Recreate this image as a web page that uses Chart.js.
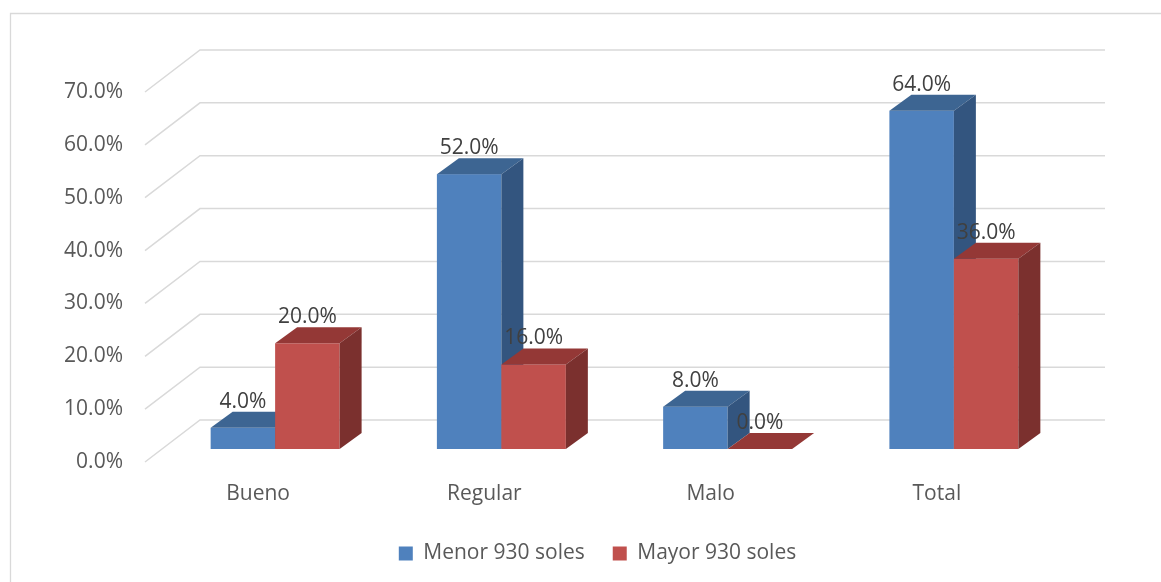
<!DOCTYPE html>
<html>
<head>
<meta charset="utf-8">
<script src="https://cdn.jsdelivr.net/npm/chart.js@4.4.0/dist/chart.umd.min.js"></script>
<style>
  html, body { margin: 0; padding: 0; background: #ffffff; }
  #wrap { position: relative; width: 1161px; height: 582px; }
</style>
</head>
<body>
<div id="wrap"><canvas id="c" width="1161" height="582"></canvas></div>
<script>
// ---- data ----
const categories = ['Bueno', 'Regular', 'Malo', 'Total'];
const seriesNames = ['Menor 930 soles', 'Mayor 930 soles'];
const menorValues = [0.04, 0.52, 0.08, 0.64];
const mayorValues = [0.20, 0.16, 0.00, 0.36];
const yTicks = [0, 0.1, 0.2, 0.3, 0.4, 0.5, 0.6, 0.7];

// ---- styles ----
const faceColors = [
  { front: '#4F81BD', top: '#3D6592', side: '#33557F' },
  { front: '#C0504D', top: '#943836', side: '#7B302E' }
];
const gridColor = '#D9D9D9';
const wallDepth = { dx: 55, dy: -42 };       // full depth of the floor/walls
const barFront = { dx: 17, dy: -13 };        // position of bar front face within depth
const barDepth = { dx: 22, dy: -16 };        // depth of the bars
const fontFamily = '"Open Sans", "Noto Sans", sans-serif';
const fontSize = 21;
const bottomPad = 8;

const fmt = v => (v * 100).toFixed(1) + '%';

const threeD = {
  id: 'threeD',
  beforeDraw(chart) {
    const ctx = chart.ctx;
    ctx.save();
    ctx.strokeStyle = gridColor;
    ctx.lineWidth = 1.3;
    ctx.beginPath();
    ctx.moveTo(10.5, 582);
    ctx.lineTo(10.5, 13.5);
    ctx.lineTo(1161, 13.5);
    ctx.stroke();
    ctx.restore();
  },
  beforeDatasetsDraw(chart) {
    const ctx = chart.ctx;
    const ys = chart.scales.y;
    const area = chart.chartArea;
    ctx.save();
    // wall gridlines
    ctx.strokeStyle = gridColor;
    ctx.lineWidth = 1.5;
    yTicks.forEach(v => {
      const yf = ys.getPixelForValue(v);
      ctx.beginPath();
      ctx.moveTo(area.left, yf);
      ctx.lineTo(area.left + wallDepth.dx, yf + wallDepth.dy);
      ctx.lineTo(area.right + wallDepth.dx, yf + wallDepth.dy);
      ctx.stroke();
    });
    // bars
    const labels = [];
    const n = categories.length;
    for (let i = 0; i < n; i++) {
      chart.data.datasets.forEach((ds, di) => {
        const el = chart.getDatasetMeta(di).data[i];
        const p = el.getProps(['x', 'y', 'base', 'width'], true);
        const c = faceColors[di];
        const L = p.x - p.width / 2 + barFront.dx;
        const R = p.x + p.width / 2 + barFront.dx;
        const T = p.y + barFront.dy;
        const B = p.base + barFront.dy;
        ctx.fillStyle = c.front;
        ctx.fillRect(L, T, R - L, B - T);
        ctx.fillStyle = c.top;
        ctx.beginPath();
        ctx.moveTo(L, T);
        ctx.lineTo(R, T);
        ctx.lineTo(R + barDepth.dx, T + barDepth.dy);
        ctx.lineTo(L + barDepth.dx, T + barDepth.dy);
        ctx.closePath();
        ctx.fill();
        ctx.fillStyle = c.side;
        ctx.beginPath();
        ctx.moveTo(R, T);
        ctx.lineTo(R + barDepth.dx, T + barDepth.dy);
        ctx.lineTo(R + barDepth.dx, B + barDepth.dy);
        ctx.lineTo(R, B);
        ctx.closePath();
        ctx.fill();
        labels.push({ x: (L + R) / 2, y: T + barDepth.dy - 10, text: fmt(ds.data[i]) });
      });
    }
    // value labels
    ctx.fillStyle = '#404040';
    ctx.font = fontSize + 'px ' + fontFamily;
    ctx.textAlign = 'center';
    ctx.textBaseline = 'middle';
    labels.forEach(l => ctx.fillText(l.text, l.x, l.y));
    ctx.restore();
    return false;
  }
};

new Chart(document.getElementById('c'), {
  type: 'bar',
  data: {
    labels: categories,
    datasets: [
      { label: seriesNames[0], data: menorValues, backgroundColor: faceColors[0].front },
      { label: seriesNames[1], data: mayorValues, backgroundColor: faceColors[1].front }
    ]
  },
  options: {
    responsive: false,
    animation: false,
    events: [],
    categoryPercentage: 0.57,
    barPercentage: 1.0,
    layout: { padding: { left: 0, right: 111, top: 92, bottom: bottomPad } },
    plugins: {
      tooltip: { enabled: false },
      legend: {
        position: 'bottom',
        fullSize: false,
        labels: {
          boxWidth: 14,
          boxHeight: 14,
          padding: 28,
          color: '#595959',
          font: { size: fontSize, family: fontFamily }
        }
      }
    },
    scales: {
      x: {
        grid: { display: false, drawTicks: false },
        border: { display: false },
        ticks: { color: '#595959', padding: 19, font: { size: fontSize, family: fontFamily } },
        afterFit(scale) {
          const lg = scale.chart.legend;
          const lh = lg && lg.height ? lg.height : 59;
          scale.height = 582 - 462 - lh - bottomPad;
        }
      },
      y: {
        min: 0,
        max: 0.7,
        afterBuildTicks(scale) { scale.ticks = yTicks.map(v => ({ value: v })); },
        grid: { display: false, drawTicks: false },
        border: { display: false },
        ticks: {
          color: '#595959',
          padding: 22,
          font: { size: fontSize, family: fontFamily },
          callback: v => fmt(v)
        },
        afterFit(scale) { scale.width = 145; }
      }
    }
  },
  plugins: [threeD]
});
</script>
</body>
</html>
